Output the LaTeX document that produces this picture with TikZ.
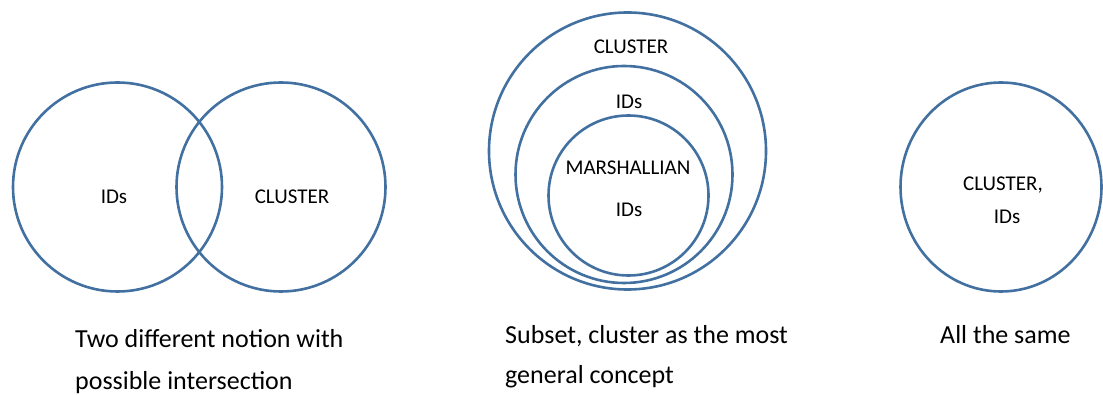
\documentclass[tikz,border=0pt]{standalone}
\usepackage{fontspec}
\setmainfont{Carlito}
\definecolor{ringblue}{RGB}{66,112,160}
\tikzset{
  ring/.style={draw=ringblue, line width=2.6pt},
  lbl/.style={font=\fontsize{21}{25}\selectfont, inner sep=0pt, anchor=base},
  captiontext/.style={font=\fontsize{26}{30}\selectfont, inner sep=0pt, anchor=base west},
}
\begin{document}
\begin{tikzpicture}[x=1pt, y=-1pt]
\useasboundingbox (0,0) rectangle (1103,395);

% overlapping notions
\draw[ring] (117.5,187) circle[radius=104.5];
\draw[ring] (281,187) circle[radius=104.5];
\node[lbl] (idsA) at (114,204) {IDs};
\node[lbl] (clusterA) at (292,204) {CLUSTER};
\node[captiontext] (capA1) at (75,348) {Two different notion with};
\node[captiontext] (capA2) at (75,389) {possible intersection};

% nested subsets
\draw[ring] (627.5,151) circle[radius=138.5];
\draw[ring] (624,174.5) circle[radius=108.5];
\draw[ring] (628.5,195.5) circle[radius=80];
\node[lbl] (clusterB) at (631,54) {CLUSTER};
\node[lbl] (idsB) at (629,108.5) {IDs};
\node[lbl] (marsh) at (628,174.5) {MARSHALLIAN};
\node[lbl] (idsC) at (629,217) {IDs};
\node[captiontext] (capB1) at (505,343) {Subset, cluster as the most};
\node[captiontext] (capB2) at (505,383) {general concept};

% identical notions
\draw[ring] (1001,187) ellipse[x radius=100.5, y radius=104.5];
\node[lbl] (clusterC) at (1003,191) {CLUSTER,};
\node[lbl] (idsD) at (1007,223.5) {IDs};
\node[captiontext] (capC) at (940,343) {All the same};
\end{tikzpicture}
\end{document}
